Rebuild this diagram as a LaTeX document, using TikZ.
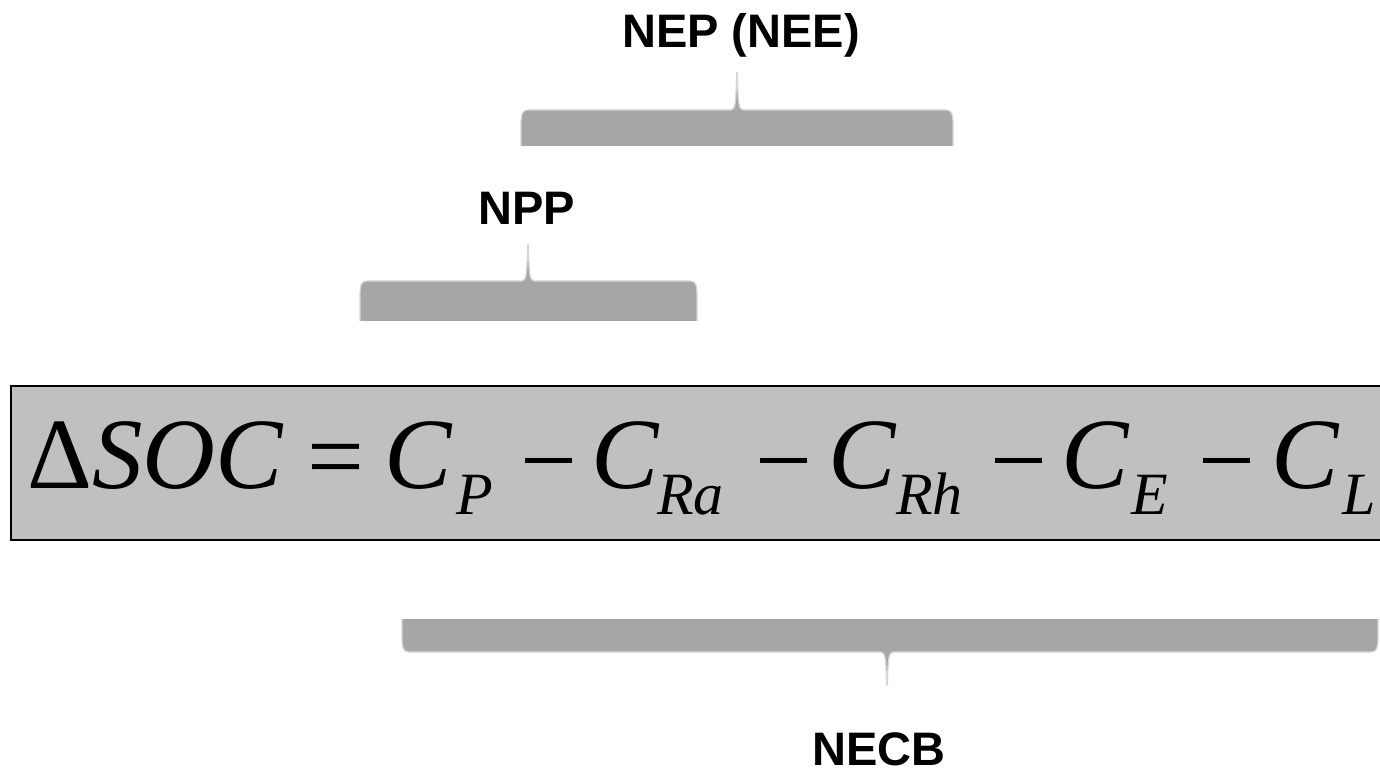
\documentclass[tikz,border=0pt]{standalone}
\usepackage{fontspec}
\setmainfont{Liberation Serif}
\newfontfamily\labelfont{Liberation Sans}
\definecolor{boxgray}{HTML}{C0C0C0}
\definecolor{bracegray}{HTML}{A6A6A6}
\definecolor{braceedge}{HTML}{D6D6D6}
% filled brace: x0, x1, tip x, flat y, edge y, tip y, direction (+1 up, -1 down)
\newcommand\bracefill[7]{%
  \fill[bracegray] (#1,#4) -- (#1,{#5-#7*14}) .. controls (#1,{#5-#7*3}) and ({#1+2},#5) .. ({#1+7},#5)
    -- ({#3-6},#5) .. controls ({#3-1.5},#5) and ({#3-1},{#5+#7*8}) .. ({#3-0.6},#6)
    -- ({#3+0.6},#6) .. controls ({#3+1},{#5+#7*8}) and ({#3+1.5},#5) .. ({#3+6},#5)
    -- ({#2-7},#5) .. controls ({#2-2},#5) and (#2,{#5-#7*3}) .. (#2,{#5-#7*14}) -- (#2,#4) -- cycle;
  \draw[braceedge, line width=1.2pt] (#1,#4) -- (#1,{#5-#7*14}) .. controls (#1,{#5-#7*3}) and ({#1+2},#5) .. ({#1+7},#5)
    -- ({#3-6},#5) .. controls ({#3-1.5},#5) and ({#3-1},{#5+#7*8}) .. ({#3-0.4},#6)
    -- ({#3+0.4},#6) .. controls ({#3+1},{#5+#7*8}) and ({#3+1.5},#5) .. ({#3+6},#5)
    -- ({#2-7},#5) .. controls ({#2-2},#5) and (#2,{#5-#7*3}) .. (#2,{#5-#7*14}) -- (#2,#4);}
\begin{document}
\begin{tikzpicture}[x=1pt, y=1pt,
  lbl/.style={anchor=base, inner sep=0, font=\labelfont\bfseries\fontsize{47}{47}\selectfont},
  eqbig/.style={anchor=base west, inner sep=0, font=\fontsize{101}{101}\selectfont},
  eqsub/.style={anchor=base west, inner sep=0, font=\itshape\fontsize{60}{60}\selectfont}]
\useasboundingbox (0,0) rectangle (1380,772);
\clip (0,0) rectangle (1380,772);

% equation box
\draw[fill=boxgray, line width=2pt] (11,232) rectangle (1392,386);

% equation terms
\node[eqbig] (dsoc) at (27,284) {Δ\textit{SOC}};
\node[eqbig] (eq)   at (307,282) {=};
\node[eqbig] (c1)   at (384,284) {\textit{C}};
\node[eqsub] (s1)   at (456,258) {P};
\node[eqbig] (m1)   at (520,278) {−};
\node[eqbig] (c2)   at (591,284) {\textit{C}};
\node[eqsub] (s2)   at (657,258) {Ra};
\node[eqbig] (m2)   at (755,278) {−};
\node[eqbig] (c3)   at (828,284) {\textit{C}};
\node[eqsub] (s3)   at (896,258) {Rh};
\node[eqbig] (m3)   at (990,278) {−};
\node[eqbig] (c4)   at (1061,284) {\textit{C}};
\node[eqsub] (s4)   at (1131,258) {E};
\node[eqbig] (m4)   at (1198,278) {−};
\node[eqbig] (c5)   at (1271,284) {\textit{C}};
\node[eqsub] (s5)   at (1342,258) {L};

% braces
\bracefill{521}{953}{737}{626}{662}{699}{1}
\bracefill{360}{697}{528}{451}{491}{527}{1}
\bracefill{402}{1378}{887}{153}{120}{87}{-1}

% labels
\node[lbl] (nep)  at (741,724) {NEP (NEE)};
\node[lbl] (npp)  at (527,547) {NPP};
\node[lbl] (necb) at (879,7)   {NECB};
\end{tikzpicture}
\end{document}
